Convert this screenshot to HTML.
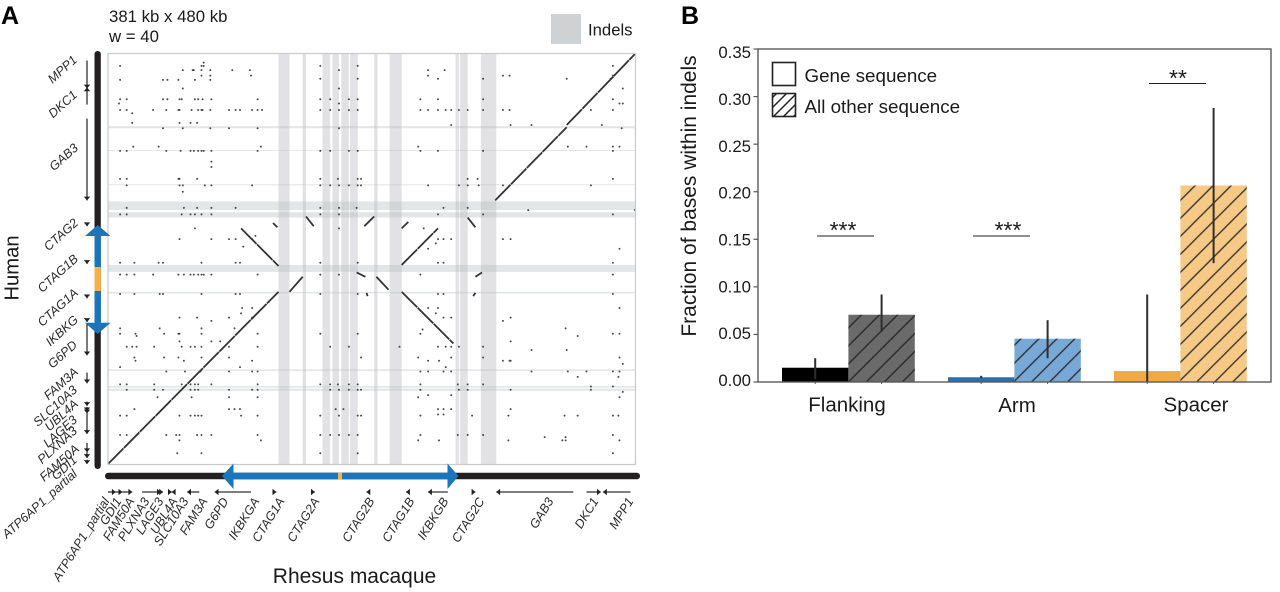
<!DOCTYPE html>
<html lang="en">
<head>
<meta charset="utf-8">
<title>Dot plot and indel fractions</title>
<style>
html,body{margin:0;padding:0;background:#fff;width:1280px;height:592px;overflow:hidden}
svg{display:block;font-family:"Liberation Sans",sans-serif;fill:#1a1a1a;filter:blur(.3px)}
.gl{font-size:12.6px;font-style:italic;fill:#2a2a2a}
</style>
</head>
<body>
<svg id="fig" width="1280" height="592" viewBox="0 0 1280 592" xmlns="http://www.w3.org/2000/svg">
<defs>
<pattern id="hatch-flanking" width="18" height="18" patternUnits="userSpaceOnUse" patternTransform="translate(6.3 0)">
<path d="M-2 20L20 -2M-2 2L2 -2M16 20L20 16" stroke="#222" stroke-width="1.5" stroke-opacity=".85" fill="none"/>
</pattern>
<pattern id="hatch-arm" width="18" height="18" patternUnits="userSpaceOnUse" patternTransform="translate(9.6 0)">
<path d="M-2 20L20 -2M-2 2L2 -2M16 20L20 16" stroke="#222" stroke-width="1.5" stroke-opacity=".85" fill="none"/>
</pattern>
<pattern id="hatch-spacer" width="18" height="18" patternUnits="userSpaceOnUse" patternTransform="translate(12.7 0)">
<path d="M-2 20L20 -2M-2 2L2 -2M16 20L20 16" stroke="#222" stroke-width="1.5" stroke-opacity=".85" fill="none"/>
</pattern>
<pattern id="hatch-small" width="10" height="10" patternUnits="userSpaceOnUse">
<path d="M-1 11L11 -1M-1 1L1 -1M9 11L11 9" stroke="#222" stroke-width="1.5" fill="none"/>
</pattern>
</defs>

<text x="1" y="24" font-size="25" font-weight="bold" fill="#000">A</text>
<text x="109" y="22" font-size="16.8">381 kb x 480 kb</text>
<text x="109" y="42" font-size="16.8">w = 40</text>
<rect x="551" y="14" width="30" height="30" fill="#cfd1d2"/>
<text x="588" y="35.5" font-size="16.7">Indels</text>

<g id="dotplot"></g>
<rect x="108" y="53.5" width="527.5" height="411" fill="none" stroke="#c9c9c9" stroke-width="1.2"/>

<text transform="translate(18.5 268) rotate(-90)" text-anchor="middle" font-size="20.2">Human</text>
<text x="354.5" y="583" text-anchor="middle" font-size="21">Rhesus macaque</text>

<g>
<rect x="94.5" y="51" width="6.3" height="418" rx="3.1" fill="#231f20"/>
<rect x="94.5" y="235" width="6.3" height="33" fill="#1b75bb"/>
<rect x="94.5" y="267" width="6.3" height="24" fill="#f7b04b"/>
<rect x="94.5" y="291" width="6.3" height="33" fill="#1b75bb"/>
<polygon points="97.7,225 110.5,236 85,236" fill="#1b75bb"/>
<polygon points="85,322.7 110.5,322.7 97.7,334" fill="#1b75bb"/>
</g>
<g>
<rect x="105" y="472.7" width="535" height="6.6" rx="3.2" fill="#231f20"/>
<rect x="232" y="472.7" width="217" height="6.6" fill="#1b75bb"/>
<rect x="338" y="472.7" width="4" height="6.6" fill="#f7b04b"/>
<polygon points="222,476 233.5,463.5 233.5,489" fill="#1b75bb"/>
<polygon points="447.5,463.5 458.5,476 447.5,489" fill="#1b75bb"/>
</g>
<g id="genes"></g>

<g class="gl" text-anchor="end">
<text transform="translate(78 61) rotate(-42)">MPP1</text>
<text transform="translate(78 96) rotate(-42)">DKC1</text>
<text transform="translate(79 149) rotate(-42)">GAB3</text>
<text transform="translate(79 224) rotate(-42)">CTAG2</text>
<text transform="translate(79 260) rotate(-42)">CTAG1B</text>
<text transform="translate(79 294) rotate(-42)">CTAG1A</text>
<text transform="translate(79 321) rotate(-42)">IKBKG</text>
<text transform="translate(78 346) rotate(-42)">G6PD</text>
<text transform="translate(79 373) rotate(-42)">FAM3A</text>
<text transform="translate(78 391) rotate(-42)">SLC10A3</text>
<text transform="translate(79 405) rotate(-42)">UBL4A</text>
<text transform="translate(78 421) rotate(-42)">LAGE3</text>
<text transform="translate(78 432) rotate(-42)">PLXNA3</text>
<text transform="translate(80 450) rotate(-42)">FAM50A</text>
<text transform="translate(78 461) rotate(-42)">GDI1</text>
<text transform="translate(78 475) rotate(-42)">ATP6AP1_partial</text>
</g>
<g class="gl" text-anchor="end">
<text transform="translate(110 501) rotate(-58)">ATP6AP1_partial</text>
<text transform="translate(122 501) rotate(-58)">GDI1</text>
<text transform="translate(135 501) rotate(-58)">FAM50A</text>
<text transform="translate(150 501) rotate(-58)">PLXNA3</text>
<text transform="translate(164 501) rotate(-58)">LAGE3</text>
<text transform="translate(178 501) rotate(-58)">UBL4A</text>
<text transform="translate(189 501) rotate(-58)">SLC10A3</text>
<text transform="translate(208 501) rotate(-58)">FAM3A</text>
<text transform="translate(229 501) rotate(-58)">G6PD</text>
<text transform="translate(260 501) rotate(-58)">IKBKGA</text>
<text transform="translate(285 501) rotate(-58)">CTAG1A</text>
<text transform="translate(320 501) rotate(-58)">CTAG2A</text>
<text transform="translate(375 501) rotate(-58)">CTAG2B</text>
<text transform="translate(415 501) rotate(-58)">CTAG1B</text>
<text transform="translate(449 501) rotate(-58)">IKBKGB</text>
<text transform="translate(485 501) rotate(-58)">CTAG2C</text>
<text transform="translate(554 501) rotate(-58)">GAB3</text>
<text transform="translate(599 501) rotate(-58)">DKC1</text>
<text transform="translate(634 501) rotate(-58)">MPP1</text>
</g>

<text x="681" y="24" font-size="25" font-weight="bold" fill="#000">B</text>
<text transform="translate(696 196) rotate(-90)" text-anchor="middle" font-size="21">Fraction of bases within indels</text>
<g id="bars"></g>
<rect x="758" y="49" width="513" height="333" fill="none" stroke="#5a5a5a" stroke-width="1.4"/>
<g id="yaxis"></g>

<g>
<rect x="772.5" y="62.5" width="23" height="23" fill="#fff" stroke="#222" stroke-width="1.6"/>
<text x="804.5" y="82" font-size="18.8">Gene sequence</text>
<rect x="772.5" y="93.5" width="23" height="23" fill="url(#hatch-small)" stroke="#222" stroke-width="1.6"/>
<text x="804.5" y="113" font-size="18.8">All other sequence</text>
</g>

<g>
<line x1="817" x2="874" y1="236" y2="236" stroke="#222" stroke-width="1"/>
<text x="843" y="238" text-anchor="middle" font-size="23">***</text>
<line x1="973" x2="1030" y1="236" y2="236" stroke="#222" stroke-width="1"/>
<text x="1008" y="238" text-anchor="middle" font-size="23">***</text>
<line x1="1149" x2="1206" y1="83.5" y2="83.5" stroke="#222" stroke-width="1"/>
<text x="1178" y="86" text-anchor="middle" font-size="23">**</text>
</g>

<text x="847" y="411.5" text-anchor="middle" font-size="20.5">Flanking</text>
<text x="1017" y="412" text-anchor="middle" font-size="20.5">Arm</text>
<text x="1196" y="411.5" text-anchor="middle" font-size="20.5">Spacer</text>

<script>
// ---------- Panel A data (positions in kb) ----------
const indelStartsX = [155,177,195,204,212,220,242,256,316,320,339];
const indelEndsX   = [165,180,202,210,219,227,245,267,319,327,353];
const indelStartsY = [312,291,259,236,229,178.5,158.5,86.5,71,68];
const indelEndsY   = [314,291.8,260,244,234,185,160,88,72.5,70];
const alignX0 = [0,165,121,180,150,233,267,267,244,267,327,352,417,226,334,235,332];
const alignY0 = [0,160,219,230,224,221,219,185,174,160,229,245,315,178,174,159,156];
const alignX1 = [155,177,155,187,154,242,273,300,255,314,334,417,479,234,340,236,334];
const alignY1 = [160,174,184,221,220,230,225,219,162,112,220,313,381,174,178,156,159];
const dotRowY = [373,370,366,361,358,357,349,339,335,329,326,317,315,312,295,291,281,276,265,259,253,238,236,232,219,212,209,205,202,200,187,176,158,145,140,136,133,126,125,121,119,114,109,106,99,96,93,90,86,81,74,72,69,67,64,62,51,46,45,27,25,22,10];
const dotRowX = [
[87],[11,85,87,193,227,459],[68,77,78,85,93,113,129,210,291,306],[85,93,130,291,359,365,459],
[193,227,300,341,417,457],[11,50,54,64,79,93],[68,210,468],
[11,17,50,54,65,67,79,82,86,94,136,193,202,219,227,284,300,341,459],[10,210,465,468],
[11,17,41,53,64,65,76,82,85,86,93,110,116,120,131,136,140,193,202,210,219,227,284,291,300,307,312,319,327,341,359,365,439,459],
[22],[22,65,75,81],[312,366,385,449],[50,68,93,110,136,210,467],[23,46,139,282,418,435,459,465],
[11,17,53,66,75,78,82,85,87,94,136,193,202,219,227,284,300,341,459],[94],[94],
[11,17,64,65,81,193,209,227,230,327,336,459],
[17,65,68,88,94,131,193,202,210,219,227,230,291,319,327,337,359,439],[68],
[17,69,81,94,116,193,210,226,305,327],[382,479],[11,17,67,75,79,85,94,193,210,300,341,459],
[79,210,287],[134],[65,94,110,116,131,300,305,312,359,366],[298],[123],[291,465],
[11,24,46,50,85,116,120,193,227,300,305,459],[11,17,24,41,64,69,75,78,82,85,87,94,136,193,210,284,459],
[11,24,47,50,85,116,120,193,227,300,305,459],[122,131,291,300,465],[121,298],[65,81,110,131,305,312,366],
[94,359],[11,47,85,115,416],[286],[11,25,51,64,65,85,136,193,227,284,459,465],[26,427],[65,94,102,366],
[17,22,26,42,67,75,79,85,110,136,202,219,265,300,307,312,319,341],[385,417],[24,51,64,85,110,230,282,312,341,465],
[25,69,131,291,301,359,365,366],[468],[11,120,307],[53,70,84,110,131,136,284,291,305,312,385,418,435,459,465],
[427,464],[11,17,42,67,75,79,82,94,136,193,202,209,219,227,284,318,327,341],[439,459],
[17,42,50,75,79,82,110,131,136,202,210,219,227,230,284,319,327,366,439],[468],[291,312],[45,76,110,136,282,465],
[24,110,115,120,207,214,300,305,312,366],[300,305],[11,17,65,75,79,82,85,121,136,193,210,227,230,284,331,364,415,427,459,464],
[11,17,53,62,65,81,85,94,136,193,202,210,219,227,284,318,327,341,459],[397,416],[65,139,282,301,364,413,416,465],[63,85,193,227,459]
];
const humanGeneTail = [375,334,321,223,188,156,134,130,85,58,53,48,47,19.5,11,4];
const humanGeneHead = [349,350,245,221,186,154,132,101,75,54,49,47,28,11,5.6,0];
const rhesusGeneTail = [0,7,13,31,48,55,61,83,130,151,186,237,273,309,332,423,435,475];
const rhesusGeneHead = [7,13,22,48,50,58,58,72,97,153,188,235,271,291,334,353,448,450];

// ---------- Panel B data ----------
const categories = ['flanking','arm','spacer'];
const geneValues = [0.015,0.005,0.0115];
const otherValues = [0.0707,0.0455,0.2065];
const geneErrLow = [0.003,0.004,0];
const geneErrHigh = [0.025,0.0065,0.092];
const otherErrLow = [0.053,0.025,0.125];
const otherErrHigh = [0.092,0.065,0.288];
const geneColors = ['#000000','#2b6fb0','#f0a944'];
const otherColors = ['#6a6a6a','#78a8d6','#f6ca86'];
const yTickValues = [0,0.05,0.10,0.15,0.20,0.25,0.30,0.35];
const yTickLabels = ['0.00','0.05','0.10','0.15','0.20','0.25','0.30','0.35'];

// ---------- Helpers and scales ----------
const NS = 'http://www.w3.org/2000/svg';
function mk(tag, attrs, parent){
  const el = document.createElementNS(NS, tag);
  for (const k in attrs) el.setAttribute(k, attrs[k]);
  parent.appendChild(el);
  return el;
}
const kbX = v => 108 + v * 1.1;
const kbY = v => 464 - v * 1.076;
const fracY = v => 382 - v * 951.4;
const tickLabelY = v => 386 - v * 937;
const barX = i => 782 + i * 166;
const barW = 66.4;

const dp = document.getElementById('dotplot');
indelStartsX.forEach((s, i) => {
  const el = mk('rect', {x:kbX(s), y:54, width:kbX(indelEndsX[i]) - kbX(s), height:410, fill:'#b9bbbe', 'fill-opacity':.42}, dp);
  
  
});
indelStartsY.forEach((s, i) => {
  const el = mk('rect', {x:108, y:kbY(indelEndsY[i]), width:527.5, height:kbY(s) - kbY(indelEndsY[i]), fill:'#b9bbbe', 'fill-opacity':.38}, dp);
  
  
});
dotRowY.forEach((y, r) => {
  dotRowX[r].forEach(x => {
    const el = mk('circle', {cx:kbX(x), cy:kbY(y), r:1, fill:'#2a2a2a', 'fill-opacity':.85}, dp);
    
    
  });
});
alignX0.forEach((x, i) => {
  const el = mk('line', {x1:kbX(x), y1:kbY(alignY0[i]), x2:kbX(alignX1[i]), y2:kbY(alignY1[i]), stroke:'#333', 'stroke-width':1.8, 'stroke-dasharray':'22 .6'}, dp);
  
  
});

const gt = document.getElementById('genes');
function arrowHead(px, py, dx, dy){
  const s = 3.8, w = 3.2;
  const pts = [[px,py],[px - dx*s - dy*w, py - dy*s - dx*w],[px - dx*s + dy*w, py - dy*s + dx*w]];
  const el = mk('polygon', {points:pts.map(p => p.join(',')).join(' '), fill:'#222'}, gt);
  
  
}
humanGeneTail.forEach((t, i) => {
  const y1 = kbY(t), y2 = kbY(humanGeneHead[i]);
  const el = mk('line', {x1:87, x2:87, y1:y1, y2:y2, stroke:'#333', 'stroke-width':1.3}, gt);
  
  
  arrowHead(87, y2, 0, y2 > y1 ? 1 : -1);
});
rhesusGeneTail.forEach((t, i) => {
  const x1 = kbX(t), x2 = kbX(rhesusGeneHead[i]);
  const el = mk('line', {x1:x1, x2:x2, y1:492, y2:492, stroke:'#333', 'stroke-width':1.3}, gt);
  
  
  arrowHead(x2, 492, x2 > x1 ? 1 : -1, 0);
});

const bg = document.getElementById('bars');
categories.forEach((c, i) => {
  const x = barX(i);
  const g = mk('rect', {x:x, y:fracY(geneValues[i]), width:barW, height:fracY(0) - fracY(geneValues[i]), fill:geneColors[i]}, bg);
  
  
  const o = mk('rect', {x:x + barW, y:fracY(otherValues[i]), width:barW, height:fracY(0) - fracY(otherValues[i]), fill:otherColors[i]}, bg);
  
  
  const h = mk('rect', {x:x + barW, y:fracY(otherValues[i]), width:barW, height:fracY(0) - fracY(otherValues[i]), fill:'url(#hatch-' + c + ')'}, bg);
  
  
  const e1 = mk('line', {x1:x + barW/2, x2:x + barW/2, y1:fracY(geneErrLow[i]), y2:fracY(geneErrHigh[i]), stroke:'#2e2e2e', 'stroke-width':2}, bg);
  
  
  const e2 = mk('line', {x1:x + barW*1.5, x2:x + barW*1.5, y1:fracY(otherErrLow[i]), y2:fracY(otherErrHigh[i]), stroke:'#2e2e2e', 'stroke-width':2}, bg);
  
  
  const t1 = mk('line', {x1:x + barW/2, x2:x + barW/2, y1:382, y2:384, stroke:'#5a5a5a', 'stroke-width':1}, bg);
  
  
  const t2 = mk('line', {x1:x + barW*1.5, x2:x + barW*1.5, y1:382, y2:384, stroke:'#5a5a5a', 'stroke-width':1}, bg);
  
  
});

const ya = document.getElementById('yaxis');
yTickValues.forEach((v, i) => {
  const t = mk('line', {x1:753.5, x2:758, y1:fracY(v), y2:fracY(v), stroke:'#5a5a5a', 'stroke-width':1.2}, ya);
  
  
  const l = mk('text', {x:751, y:tickLabelY(v), 'text-anchor':'end', 'font-size':16.8}, ya);
  
  
  l.textContent = yTickLabels[i];
});
</script>
</svg>
</body>
</html>
